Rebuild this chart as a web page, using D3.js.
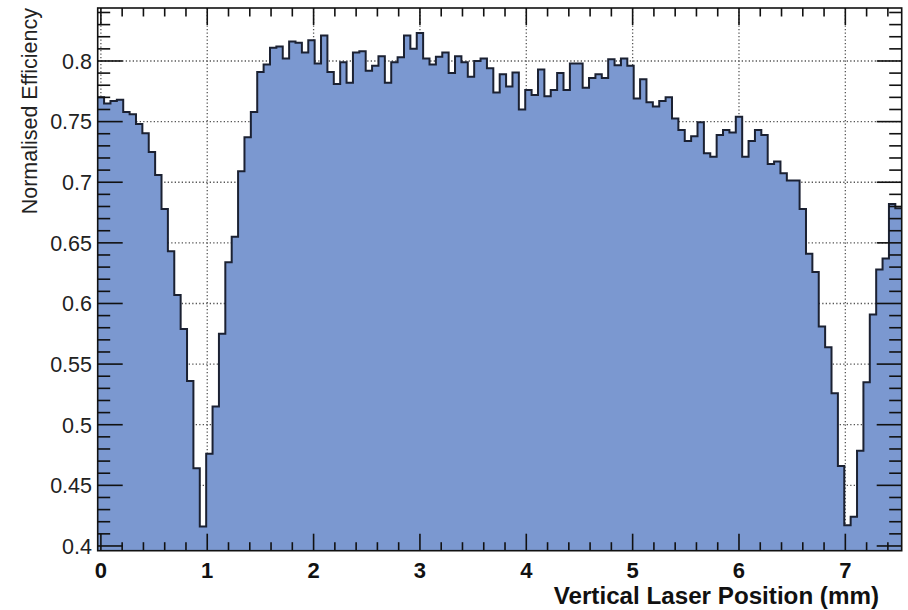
<!DOCTYPE html>
<html>
<head>
<meta charset="utf-8">
<script src="https://cdn.jsdelivr.net/npm/d3@7"></script>
<style>
  html, body { margin: 0; padding: 0; background: #ffffff; }
  svg { display: block; }
  text { font-family: "Liberation Sans", Arial, sans-serif; }
</style>
</head>
<body>
<svg id="chart" width="908" height="610"></svg>
<script>
// Histogram binning: 126 bins of 0.06 mm, centred on the scan positions 0 ... 7.5 mm
const binLow = -0.03;
const binWidth = 0.06;

// Normalised efficiency per bin
const efficiency = [
  0.770, 0.765, 0.767, 0.768, 0.758, 0.756, 0.748, 0.7405, 0.725, 0.706,
  0.678, 0.643, 0.607, 0.579, 0.536, 0.464, 0.416, 0.476, 0.515, 0.575,
  0.634, 0.655, 0.709, 0.737, 0.758, 0.791, 0.797, 0.811, 0.812, 0.802,
  0.816, 0.815, 0.807, 0.817, 0.798, 0.821, 0.791, 0.781, 0.799, 0.782,
  0.807, 0.808, 0.792, 0.796, 0.804, 0.782, 0.799, 0.803, 0.821, 0.810,
  0.823, 0.802, 0.797, 0.8035, 0.807, 0.790, 0.804, 0.799, 0.787, 0.800,
  0.802, 0.794, 0.774, 0.789, 0.779, 0.7905, 0.760, 0.776, 0.772, 0.793,
  0.771, 0.776, 0.790, 0.776, 0.798, 0.798, 0.778, 0.786, 0.789, 0.786,
  0.8015, 0.7965, 0.802, 0.796, 0.769, 0.785, 0.766, 0.7625, 0.767, 0.770,
  0.7525, 0.743, 0.734, 0.738, 0.7495, 0.724, 0.721, 0.739, 0.743, 0.741,
  0.754, 0.721, 0.734, 0.743, 0.739, 0.715, 0.717, 0.7075, 0.7015, 0.7015,
  0.678, 0.641, 0.626, 0.581, 0.564, 0.526, 0.466, 0.417, 0.424, 0.4785,
  0.535, 0.591, 0.628, 0.637, 0.682, 0.6786
];

// Axis ticks
const xMajorTicks = [0, 1, 2, 3, 4, 5, 6, 7];
const yMajorTicks = [0.4, 0.45, 0.5, 0.55, 0.6, 0.65, 0.7, 0.75, 0.8];
const yTickLabels = ["0.4", "0.45", "0.5", "0.55", "0.6", "0.65", "0.7", "0.75", "0.8"];
const xTitle = "Vertical Laser Position (mm)";
const yTitle = "Normalised Efficiency";

const svg = d3.select("#chart");
const frame = { left: 97.7, right: 901.7, top: 8, bottom: 550.7 };

const xHigh = binLow + binWidth * efficiency.length;
const x = d3.scaleLinear().domain([binLow, xHigh]).range([frame.left, frame.right]);
const y = d3.scaleLinear().domain([0.3961, 0.8437]).range([frame.bottom, frame.top]);

const xMinor = d3.range(0, 7.5, 0.2).map(v => +v.toFixed(2));
const yMinor = d3.range(0.40, 0.845, 0.01).map(v => +v.toFixed(3));

// Dotted grid at the major ticks (drawn first, covered by the histogram fill)
const grid = svg.append("g")
  .attr("stroke", "#555")
  .attr("stroke-width", 1.3)
  .attr("stroke-dasharray", "1.3,2.2")
  .attr("fill", "none");
grid.selectAll("line.gx").data(xMajorTicks).join("line")
  .attr("x1", d => x(d)).attr("x2", d => x(d))
  .attr("y1", frame.top).attr("y2", frame.bottom);
grid.selectAll("line.gy").data(yMajorTicks).join("line")
  .attr("x1", frame.left).attr("x2", frame.right)
  .attr("y1", d => y(d)).attr("y2", d => y(d));

// Histogram: bin lower edges plus a closing point at the upper edge
const steps = efficiency.map((v, i) => ({ e: binLow + i * binWidth, v }));
steps.push({ e: xHigh, v: efficiency[efficiency.length - 1] });

const area = d3.area()
  .curve(d3.curveStepAfter)
  .x(d => x(d.e))
  .y0(frame.bottom)
  .y1(d => y(d.v));
const line = d3.line()
  .curve(d3.curveStepAfter)
  .x(d => x(d.e))
  .y(d => y(d.v));

svg.append("path")
  .datum(steps)
  .attr("d", area)
  .attr("fill", "#7b98d0");
svg.append("path")
  .datum(steps)
  .attr("d", line)
  .attr("fill", "none")
  .attr("stroke", "#1b2132")
  .attr("stroke-width", 2);

// Frame
svg.append("rect")
  .attr("x", frame.left).attr("y", frame.top)
  .attr("width", frame.right - frame.left)
  .attr("height", frame.bottom - frame.top)
  .attr("fill", "none")
  .attr("stroke", "#111")
  .attr("stroke-width", 1.6);

// Tick marks on all four sides
const ticks = svg.append("g").attr("stroke", "#111").attr("stroke-width", 1.6);
const isMajorX = v => xMajorTicks.some(t => Math.abs(t - v) < 1e-6);
const isMajorY = v => yMajorTicks.some(t => Math.abs(t - v) < 1e-6);
xMinor.forEach(v => {
  const len = isMajorX(v) ? 17 : 8.5;
  ticks.append("line").attr("x1", x(v)).attr("x2", x(v))
    .attr("y1", frame.bottom).attr("y2", frame.bottom - len);
  ticks.append("line").attr("x1", x(v)).attr("x2", x(v))
    .attr("y1", frame.top).attr("y2", frame.top + len);
});
yMinor.forEach(v => {
  const len = isMajorY(v) ? 25 : 12.5;
  ticks.append("line").attr("x1", frame.left).attr("x2", frame.left + len)
    .attr("y1", y(v)).attr("y2", y(v));
  ticks.append("line").attr("x1", frame.right).attr("x2", frame.right - len)
    .attr("y1", y(v)).attr("y2", y(v));
});

// Tick labels
svg.append("g").selectAll("text").data(xMajorTicks).join("text")
  .attr("x", d => x(d))
  .attr("y", 577.5)
  .attr("text-anchor", "middle")
  .attr("font-size", 22)
  .attr("font-weight", "bold")
  .attr("fill", "#111")
  .text(d => d);

svg.append("g").selectAll("text").data(yMajorTicks).join("text")
  .attr("x", 92)
  .attr("y", d => y(d) + 7.8)
  .attr("text-anchor", "end")
  .attr("font-size", 21.5)
  .attr("fill", "#222")
  .text((d, i) => yTickLabels[i]);

// Axis titles
svg.append("text")
  .attr("x", 879)
  .attr("y", 604)
  .attr("text-anchor", "end")
  .attr("font-size", 24.2)
  .attr("font-weight", "bold")
  .attr("fill", "#111")
  .text(xTitle);

svg.append("text")
  .attr("transform", "translate(36.5,8) rotate(-90)")
  .attr("text-anchor", "end")
  .attr("font-size", 21.5)
  .attr("fill", "#222")
  .text(yTitle);
</script>
</body>
</html>
